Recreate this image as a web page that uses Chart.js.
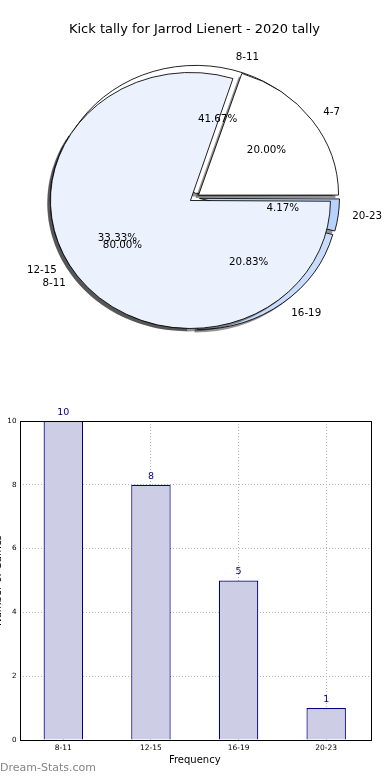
<!DOCTYPE html>
<html><head><meta charset="utf-8">
<script src="https://cdn.jsdelivr.net/npm/chart.js@4"></script>
<style>
html,body{margin:0;padding:0;background:#fff;width:390px;height:780px;overflow:hidden;position:relative;font-family:"DejaVu Sans";}
#pieWrap{position:absolute;left:0;top:0;width:389px;height:348px;}
.pc{position:absolute;left:0;top:0;}
#barCanvas{position:absolute;left:-10px;top:400px;}
#wm{position:absolute;left:0;top:761px;font:11px "DejaVu Sans";color:#858585;white-space:nowrap;}
</style></head>
<body>
<div id="pieWrap">
<canvas id="pie1" class="pc" width="389" height="348"></canvas>
<canvas id="pie2" class="pc" width="389" height="348"></canvas>
</div>
<canvas id="barCanvas" width="400" height="380"></canvas>
<div id="wm">Dream-Stats.com</div>
<script>
const chartTitle = 'Kick tally for Jarrod Lienert - 2020 tally';
const pieCategories = ['8-11', '12-15', '16-19', '20-23'];
const pieValues = [10, 8, 5, 1];
const overlayCategories = ['4-7', '8-11'];
const overlayValues = [1, 4];
const pieColors = ['#ffffff', '#ebf1fd', '#c9dcfb', '#b7d3fc'];
const barCategories = ['8-11', '12-15', '16-19', '20-23'];
const barValues = [10, 8, 5, 1];
const yTickValues = [0, 2, 4, 6, 8, 10];
const xAxisTitle = 'Frequency';
const yAxisTitle = 'Number of Games';

const FONT = 'DejaVu Sans';
const R = 140;          // horizontal radius
const K = 128 / 140;    // vertical squash of the pie
const EXPL = 5;         // explode distance (px)

const squash = {
  id: 'squash',
  afterDatasetUpdate(chart, args) {
    args.meta.data.forEach(el => {
      const fix = 1 - Math.sin(Math.min(Math.PI, el.circumference || 0));
      el.outerRadius = R - EXPL * fix;
    });
  },
  beforeDatasetsDraw(chart) {
    const arcs = chart.getDatasetMeta(0).data;
    const m = arcs[0];
    const ctx = chart.ctx;
    // shadow pass
    ctx.save();
    ctx.translate(-3, 3);
    ctx.translate(m.x, m.y); ctx.scale(1, K); ctx.translate(-m.x, -m.y);
    arcs.forEach(el => {
      const orig = el.options;
      el.options = Object.assign({}, orig, { backgroundColor: 'rgba(0,0,0,0.42)', borderWidth: 0, borderColor: 'rgba(0,0,0,0)' });
      el.draw(ctx);
      el.options = orig;
    });
    ctx.restore();
    ctx.save();
    ctx.translate(m.x, m.y); ctx.scale(1, K); ctx.translate(-m.x, -m.y);
  },
  afterDatasetsDraw(chart) { chart.ctx.restore(); }
};

function drawPieLabels(chart, ctx) {
  const meta = chart.getDatasetMeta(0);
  const vals = chart.data.datasets[0].data;
  const total = vals.reduce((a, b) => a + b, 0);
  meta.data.forEach((arc, i) => {
    const mid = (arc.startAngle + arc.endAngle) / 2;
    const c = Math.cos(mid), s = Math.sin(mid);
    ctx.save();
    ctx.fillStyle = '#000';
    ctx.font = '10.3px "' + FONT + '"';
    ctx.textBaseline = 'middle';
    const lr = 1.1 * R + EXPL;
    ctx.textAlign = c >= 0 ? 'left' : 'right';
    ctx.fillText(chart.data.labels[i], arc.x + lr * c, arc.y + lr * s * K);
    const pr = 0.6 * R + EXPL;
    ctx.textAlign = 'center';
    ctx.fillText((vals[i] / total * 100).toFixed(2) + '%', arc.x + pr * c, arc.y + pr * s * K);
    ctx.restore();
  });
}

function makePie(id, cats, vals, cols, titleColor, extraPlugins) {
  return new Chart(document.getElementById(id), {
    type: 'pie',
    data: {
      labels: cats.slice().reverse(),
      datasets: [{
        data: vals.slice().reverse(),
        backgroundColor: cols.slice(0, cats.length).reverse(),
        borderColor: '#000', borderWidth: 0.9,
        offset: EXPL * 4, hoverOffset: 0
      }]
    },
    options: {
      responsive: false, animation: false, rotation: 90, radius: R,
      events: [],
      plugins: {
        legend: { display: false }, tooltip: { enabled: false },
        title: {
          display: true, text: chartTitle, color: titleColor,
          font: { family: FONT, size: 13, weight: 'normal' },
          padding: { top: 22, bottom: 10 }
        }
      }
    },
    plugins: [squash].concat(extraPlugins)
  });
}

const pie1 = makePie('pie1', pieCategories, pieValues, pieColors, 'rgba(0,0,0,0)', []);
const labelsOnTop = {
  id: 'labelsOnTop',
  afterDraw(chart) {
    drawPieLabels(pie1, chart.ctx);
    drawPieLabels(chart, chart.ctx);
  }
};
const pie2 = makePie('pie2', overlayCategories, overlayValues, pieColors, '#000', [labelsOnTop]);

const valueLabels = {
  id: 'valueLabels',
  afterDraw(chart) {
    const ctx = chart.ctx;
    const meta = chart.getDatasetMeta(0);
    ctx.save();
    ctx.fillStyle = '#00007f';
    ctx.font = '9.5px "' + FONT + '"';
    ctx.textAlign = 'center'; ctx.textBaseline = 'middle';
    meta.data.forEach((bar, i) => {
      ctx.fillText(String(chart.data.datasets[0].data[i]), bar.x, bar.y - 8.5);
    });
    ctx.restore();
  }
};
const frame = {
  id: 'frame',
  afterDraw(chart) {
    const a = chart.chartArea, ctx = chart.ctx;
    ctx.save();
    ctx.strokeStyle = '#000'; ctx.lineWidth = 1;
    ctx.strokeRect(Math.round(a.left) + 0.5, Math.round(a.top) + 0.5, Math.round(a.right - a.left), Math.round(a.bottom - a.top));
    ctx.restore();
  }
};

new Chart(document.getElementById('barCanvas'), {
  type: 'bar',
  data: {
    labels: barCategories,
    datasets: [{
      data: barValues,
      backgroundColor: '#cdcde5', borderColor: '#000080', borderWidth: 1.2,
      barPercentage: 0.45, categoryPercentage: 1
    }]
  },
  options: {
    responsive: false, animation: false, events: [],
    layout: { padding: { top: 21, right: 20, left: 0, bottom: 0 } },
    plugins: { legend: { display: false }, tooltip: { enabled: false } },
    scales: {
      x: {
        z: 1,
        grid: { offset: false, color: '#b4b4b4', lineWidth: 1, drawTicks: false },
        border: { display: false, dash: [1, 2] },
        ticks: { font: { family: FONT, size: 7.5 }, color: '#000', padding: 4 },
        title: { display: true, text: xAxisTitle, color: '#000', font: { family: FONT, size: 10 }, padding: { top: 0, bottom: 14 } },
        afterFit(s) { s.height = 40; }
      },
      y: {
        z: 1, min: 0, max: 10,
        afterBuildTicks(s) { s.ticks = yTickValues.map(v => ({ value: v })); },
        grid: { color: '#b4b4b4', lineWidth: 1, drawTicks: false },
        border: { display: false, dash: [1, 2] },
        ticks: { font: { family: FONT, size: 7.2 }, color: '#000', padding: 3 },
        title: { display: true, text: yAxisTitle, color: '#000', font: { family: FONT, size: 10 }, padding: { top: 2, bottom: 0 } },
        afterFit(s) { s.width = 29.5; }
      }
    }
  },
  plugins: [valueLabels, frame]
});
</script>
</body></html>
